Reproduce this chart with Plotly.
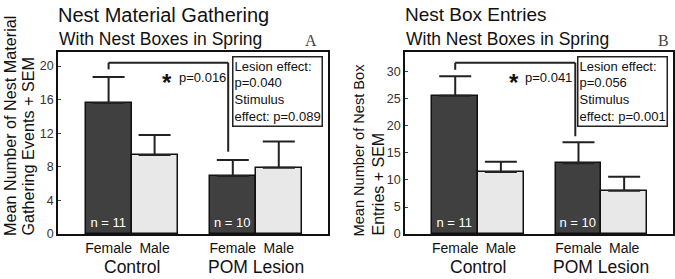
import plotly.graph_objects as go

# ---- data ----
groups = ["Control", "POM Lesion"]
sexes = ["Female", "Male", "Female", "Male"]
n_labels = ["n = 11", "", "n = 10", ""]

gathering_mean = [15.6, 9.4, 6.9, 7.9]
gathering_sem = [3.1, 2.4, 1.9, 3.1]

entries_mean = [25.6, 11.5, 13.1, 8.0]
entries_sem = [3.6, 1.9, 3.9, 2.6]

left_stats = "Lesion effect:<br>p=0.040<br>Stimulus<br>effect: p=0.089"
right_stats = "Lesion effect:<br>p=0.056<br>Stimulus<br>effect: p=0.001"
left_p = "p=0.016"
right_p = "p=0.041"

# bar positions (in bar-width units)
xpos = [0, 1, 2.7, 3.7]
group_centers = [0.5, 3.2]
colors = ["#404040", "#e8e8e8", "#404040", "#e8e8e8"]

W, H = 675, 279
FONT = "Liberation Sans, Arial, sans-serif"

def px_x(p):
    return p / W

def px_y(p):
    return 1 - p / H

fig = go.Figure()

panels = [
    dict(mean=gathering_mean, sem=gathering_sem, xa="x", ya="y", xd=(58, 328), yr=21.67,
         dtick=4, bracket=(0, 2.6, 20.4, 19.6, 9.8), stats=left_stats, pstr=left_p,
         title="Nest Material Gathering", tsize=20, letter="A", letter_x=311,
         ytitles=[("Mean Number of Nest Material", 10, 16.2), ("Gathering Events + SEM", 28, 16.2)],
         star_x=167, p_x=177),
    dict(mean=entries_mean, sem=entries_sem, xa="x2", ya="y2", xd=(405, 673), yr=33.7,
         dtick=5, bracket=(0, 2.63, 31.7, 30.4, 18.1), stats=right_stats, pstr=right_p,
         title="Nest Box Entries", tsize=19, letter="B", letter_x=663,
         ytitles=[("Mean Number of Nest Box", 359, 14.6), ("Entries + SEM", 378, 16)],
         star_x=514, p_x=523),
]

annotations = []
shapes = []
for i, pn in enumerate(panels):
    fig.add_trace(go.Bar(
        x=xpos, y=pn["mean"], width=1.0,
        marker=dict(color=colors, line=dict(color="#111", width=1.5)),
        error_y=dict(type="data", symmetric=False, array=pn["sem"],
                     arrayminus=[0] * 4, color="#222", thickness=2, width=16),
        text=n_labels, textposition="inside", insidetextanchor="start",
        textfont=dict(color="white", size=13, family=FONT),
        xaxis=pn["xa"], yaxis=pn["ya"], showlegend=False, hoverinfo="skip",
    ))
    sfx = "" if i == 0 else "2"
    x0, x1, ytop, yl, yr_ = pn["bracket"]
    for (ax0, ay0, ax1, ay1) in [(x0, yl, x0, ytop), (x0, ytop, x1, ytop), (x1, ytop, x1, yr_)]:
        shapes.append(dict(type="line", xref="x" + sfx, yref="y" + sfx,
                           x0=ax0, y0=ay0, x1=ax1, y1=ay1,
                           line=dict(color="#222", width=2)))
    # stats box
    annotations.append(dict(text=pn["stats"], xref="paper", yref="paper",
                            x=px_x(pn["xd"][1] - 96), y=px_y(56), xanchor="left", yanchor="top",
                            align="left", showarrow=False, bordercolor="#222", borderwidth=1.5,
                            borderpad=1, font=dict(size=13, family=FONT, color="#111")))
    # asterisk + p
    annotations.append(dict(text="<b>*</b>", xref="paper", yref="paper",
                            x=px_x(pn["star_x"]), y=px_y(82), xanchor="center", yanchor="middle",
                            showarrow=False, font=dict(size=24, family=FONT, color="#111")))
    annotations.append(dict(text=pn["pstr"], xref="paper", yref="paper",
                            x=px_x(pn["p_x"]), y=px_y(77), xanchor="left", yanchor="middle",
                            showarrow=False, font=dict(size=13, family=FONT, color="#111")))
    # titles
    annotations.append(dict(text=pn["title"], xref="paper", yref="paper",
                            x=px_x(pn["xd"][0] - 2), y=px_y(15), xanchor="left", yanchor="middle",
                            showarrow=False, font=dict(size=pn["tsize"], family=FONT, color="#111")))
    annotations.append(dict(text="With Nest Boxes in Spring", xref="paper", yref="paper",
                            x=px_x(pn["xd"][0] - 1), y=px_y(39), xanchor="left", yanchor="middle",
                            showarrow=False, font=dict(size=17.5, family=FONT, color="#111")))
    annotations.append(dict(text=pn["letter"], xref="paper", yref="paper",
                            x=px_x(pn["letter_x"]), y=px_y(40), xanchor="center", yanchor="middle",
                            showarrow=False, font=dict(size=16, family="Liberation Serif, DejaVu Serif, serif", color="#444")))
    # y titles (two rotated lines, bottom-aligned)
    for txt, cx, fs in pn["ytitles"]:
        annotations.append(dict(text=txt, xref="paper", yref="paper", textangle=-90,
                                x=px_x(cx), y=px_y(238), xanchor="center", yanchor="bottom",
                                showarrow=False, font=dict(size=fs, family=FONT, color="#111")))
    # group labels
    for g, gc in zip(groups, group_centers):
        annotations.append(dict(text=g, xref="x" + sfx, yref="paper",
                                x=gc, y=px_y(267), xanchor="center", yanchor="middle",
                                showarrow=False, font=dict(size=17.5, family=FONT, color="#111")))

axis_common = dict(showline=True, linecolor="#111", linewidth=1.5, mirror=True,
                   showgrid=False, zeroline=False, automargin=False)

fig.update_layout(
    width=W, height=H, margin=dict(l=0, r=0, t=0, b=0, autoexpand=False),
    paper_bgcolor="white", plot_bgcolor="white",
    bargap=0, annotations=annotations, shapes=shapes,
    font=dict(family=FONT, color="#111"),
    xaxis=dict(domain=[px_x(58), px_x(328)], range=[-1.1, 4.77], tickvals=xpos, ticktext=sexes,
               ticks="", tickfont=dict(size=14), anchor="y", **axis_common),
    yaxis=dict(domain=[px_y(234), px_y(52)], range=[0, panels[0]["yr"]], dtick=4,
               ticks="inside", ticklen=3, tickfont=dict(size=12.5, color="#333"), anchor="x", **axis_common),
    xaxis2=dict(domain=[px_x(405), px_x(673)], range=[-1.1, 4.77], tickvals=xpos, ticktext=sexes,
                ticks="", tickfont=dict(size=14), anchor="y2", **axis_common),
    yaxis2=dict(domain=[px_y(234), px_y(52)], range=[0, panels[1]["yr"]], dtick=5,
                ticks="inside", ticklen=3, tickfont=dict(size=12.5, color="#333"), anchor="x2", **axis_common),
)

fig.write_html("out.html", config={"displayModeBar": False},
               post_script="document.body.style.margin='0';document.body.style.overflow='hidden';")
